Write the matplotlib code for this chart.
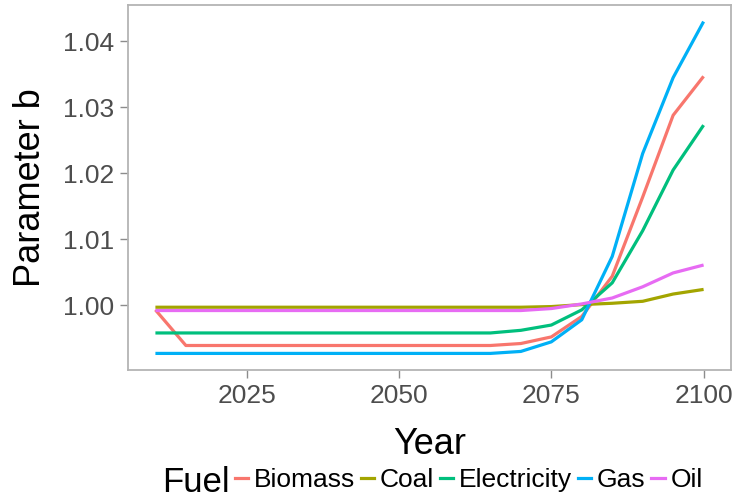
import matplotlib
matplotlib.use('Agg')
import matplotlib.pyplot as plt
from matplotlib.lines import Line2D

plt.rcParams['font.family'] = ['Liberation Sans', 'DejaVu Sans']

# data
years = list(range(2010, 2101, 5))
biomass = [0.9993] + [0.9939] * 11 + [0.9942, 0.9952, 0.9983, 1.0044, 1.0164, 1.0288, 1.0347]
coal = [0.9997] * 13 + [0.9998, 1.0001, 1.0003, 1.0006, 1.0017, 1.0024]
electricity = [0.9958] * 12 + [0.9962, 0.9970, 0.9993, 1.0034, 1.0113, 1.0205, 1.0273]
gas = [0.9927] * 12 + [0.9930, 0.99445, 0.9978, 1.0074, 1.0230, 1.0345, 1.0430]
oil = [0.9992] * 13 + [0.9995, 1.0002, 1.0011, 1.0028, 1.0049, 1.0061]

fuels = ['Biomass', 'Coal', 'Electricity', 'Gas', 'Oil']
series = [biomass, coal, electricity, gas, oil]
colors = ['#F8766D', '#A3A500', '#00BF7D', '#00B0F6', '#E76BF3']

x_ticks = [2025, 2050, 2075, 2100]
y_ticks = [1.00, 1.01, 1.02, 1.03, 1.04]

fig = plt.figure(figsize=(7.38, 4.99), dpi=100)
ax = fig.add_axes([128 / 738, 1 - 370 / 499, (731 - 128) / 738, (370 - 5) / 499])

for vals, c in zip(series, colors):
    ax.plot(years, vals, color=c, lw=2.3, solid_capstyle='butt')

# ggplot-like 5% expansion
ax.set_xlim(2005.5, 2104.5)
ymin, ymax = min(gas), max(gas)
pad = (ymax - ymin) * 0.05
ax.set_ylim(ymin - pad, ymax + pad)

ax.set_xticks(x_ticks)
ax.set_yticks(y_ticks)
ax.set_yticklabels(['%.2f' % v for v in y_ticks])
ax.tick_params(labelsize=19, labelcolor='#4D4D4D', color='#8C8C8C', length=6, width=1, pad=4)

for s in ax.spines.values():
    s.set_color('#B4B4B4')
    s.set_linewidth(1.3)

ax.set_xlabel('Year', fontsize=26)
ax.set_ylabel('Parameter b', fontsize=26)
ax.xaxis.set_label_coords(0.5, -0.155)
ax.yaxis.set_label_coords(-0.132, 0.5)

handles = [Line2D([], [], color=c, lw=2.3) for c in colors]
fig.legend(handles, fuels, ncol=5, loc='center left', bbox_to_anchor=(235 / 738, 1 - 480 / 499),
           frameon=False, fontsize=19, handlelength=0.5, handletextpad=0.22,
           columnspacing=0.22, borderpad=0, borderaxespad=0)
fig.text(162 / 738, 1 - 482 / 499, 'Fuel', fontsize=25, va='center', ha='left')

fig.savefig('out.png', dpi=100)
